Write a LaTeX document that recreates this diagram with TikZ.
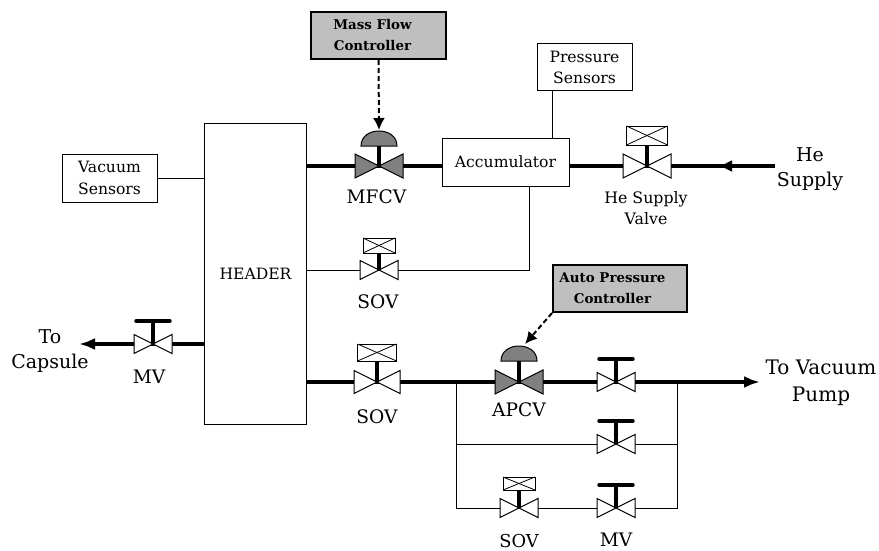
\documentclass[tikz,border=0pt]{standalone}
\usepackage{fontspec}
\setmainfont{DejaVu Serif}
\usetikzlibrary{arrows.meta,calc}
\definecolor{ctrlgray}{gray}{0.75}
\definecolor{valvegray}{gray}{0.5}
\tikzset{
  x=1pt,y=-1pt,
  box/.style={draw=black,line width=1pt,fill=white,align=center,inner sep=0pt,font=\fontsize{15.6}{21.5}\selectfont},
  ctrl/.style={draw=black,line width=2pt,fill=ctrlgray,inner sep=0pt},
  ctrltext/.style={align=center,inner sep=0pt,font=\bfseries\fontsize{13.4}{21}\selectfont},
  lbl/.style={align=center,inner sep=0pt,font=\fontsize{19}{25.5}\selectfont},
  lblwide/.style={align=center,inner sep=0pt,font=\fontsize{20}{27}\selectfont},
  caplbl/.style={align=center,inner sep=0pt,font=\fontsize{18.6}{22}\selectfont},
  slbl/.style={align=center,inner sep=0pt,font=\fontsize{15.8}{21}\selectfont},
  pipe/.style={line width=3.4pt},
  thinline/.style={line width=1pt},
  flow/.style={line width=3.4pt,-{Latex[length=16pt,width=12pt]}},
  signal/.style={line width=2pt,dash pattern=on 5pt off 3pt,-{Latex[length=12pt,width=12pt]}},
  valvebody/.style={draw=black,line width=1pt,line join=miter},
}
% #1 name, #2 half size, #3 fill
\newcommand{\valvebody}[3]{%
  \draw[valvebody,fill=#3] (#1) -- ++(-#2,-#2/2) -- ++(0,#2) -- cycle;
  \draw[valvebody,fill=#3] (#1) -- ++(#2,-#2/2) -- ++(0,#2) -- cycle;
}
% #1 name, #2 half size, #3 box half w, #4 rise to box bottom, #5 box height
\newcommand{\boxact}[5]{%
  \draw[line width=3.4pt] (#1) -- ++(0,-#4);
  \draw[draw=black,line width=1pt,fill=white] ($(#1)+(-#3,-#4)$) rectangle ($(#1)+(#3,-#4-#5)$);
  \draw[line width=.8pt] ($(#1)+(-#3,-#4)$) -- ($(#1)+(#3,-#4-#5)$);
  \draw[line width=.8pt] ($(#1)+(-#3,-#4-#5)$) -- ($(#1)+(#3,-#4)$);
}
% #1 name, #2 rise, #3 half width
\newcommand{\handact}[3]{%
  \draw[line width=3.4pt] (#1) -- ++(0,-#2);
  \draw[line width=3.4pt,line cap=round] ($(#1)+(-#3,-#2)$) -- ($(#1)+(#3,-#2)$);
}
% #1 name, #2 rise to dome base
\newcommand{\domeact}[2]{%
  \draw[line width=3.4pt] (#1) -- ++(0,-#2);
  \draw[draw=black,line width=1pt,fill=valvegray] ($(#1)+(-18,-#2)$) .. controls ($(#1)+(-18,-#2-20)$) and ($(#1)+(18,-#2-20)$) .. ($(#1)+(18,-#2)$) -- cycle;
}
\begin{document}
\begin{tikzpicture}
\useasboundingbox (0,0) rectangle (879,551);
% valve positions
\coordinate (vmfc) at (379,166);
\coordinate (vhe) at (647,166);
\coordinate (vsovm) at (379,270);
\coordinate (vmvl) at (153,344);
\coordinate (vsovb) at (377,382);
\coordinate (vapc) at (519,382);
\coordinate (vmv1) at (616,382);
\coordinate (vmv2) at (616,444);
\coordinate (vsovs) at (519,508);
\coordinate (vmv3) at (616,508);
\coordinate (jl1) at (456,382);
\coordinate (jr1) at (677,382);
\coordinate (jl2) at (456,444);
\coordinate (jr2) at (677,444);
\coordinate (jl3) at (456,508);
\coordinate (jr3) at (677,508);
\coordinate (hein) at (775,166);
\coordinate (hemid) at (718,166);
\coordinate (capsule) at (79,344);
\coordinate (pump) at (760,382);
\coordinate (acccorner) at (529,270);
\coordinate (presstap) at (552,91);
% boxes
\node[box,minimum width=102pt,minimum height=301pt] (header) at (255.5,273.5) {HEADER};
\node[box,minimum width=127pt,minimum height=48pt] (acc) at (505.5,162) {Accumulator};
\node[box,minimum width=95pt,minimum height=48pt] (vac) at (109.5,178) {Vacuum\\Sensors};
\node[box,minimum width=95pt,minimum height=47pt] (press) at (584.5,67.5) {Pressure\\Sensors};
\node[ctrl,minimum width=135pt,minimum height=47pt] (mfc) at (378.5,35.5) {};
\node[ctrltext] (mfctext) at (372.5,35.5) {Mass Flow\\Controller};
\node[ctrl,minimum width=134pt,minimum height=47pt] (apc) at (620,288.5) {};
\node[ctrltext] (apctext) at (612.5,288.5) {Auto Pressure\\Controller};
% thin connectors
\draw[thinline] (vac.east) -- (vac.east -| header.west);
\draw[thinline] (presstap) -- (presstap |- acc.north);
\draw[thinline] (vsovm -| header.east) -- (acccorner) -- (acccorner |- acc.south);
\draw[thinline] (jl1) -- (jl3) -- (jr3) -- (jr1);
\draw[thinline] (jl2) -- (jr2);
% pipes
\draw[pipe] (vmfc -| header.east) -- (vmfc) -- (vmfc -| acc.west);
\draw[pipe] (vhe -| acc.east) -- (vhe);
\draw[pipe] (hein) -- (vhe);
\draw[line width=3.4pt,-{Latex[length=14pt,width=12pt]}] (hein) -- (hemid);
\draw[flow] (vmvl -| header.west) -- (capsule);
\draw[flow] (vsovb -| header.east) -- (pump);
% signals
\draw[signal] (mfc.south) -- ($(vmfc)+(0,-36)$);
\draw[signal] (apc.south west) -- ($(vapc)+(6,-38)$);
% valves
\domeact{vmfc}{20}\valvebody{vmfc}{24}{valvegray}
\boxact{vhe}{24}{20.5}{21}{19}\valvebody{vhe}{24}{white}
\boxact{vsovm}{19}{16}{17}{15}\valvebody{vsovm}{19}{white}
\handact{vmvl}{23}{17}\valvebody{vmvl}{19}{white}
\boxact{vsovb}{23}{19.5}{21}{17}\valvebody{vsovb}{23}{white}
\domeact{vapc}{21}\valvebody{vapc}{24}{valvegray}
\handact{vmv1}{23}{17}\valvebody{vmv1}{19}{white}
\handact{vmv2}{23}{17}\valvebody{vmv2}{19}{white}
\boxact{vsovs}{19}{16}{18}{13}\valvebody{vsovs}{19}{white}
\handact{vmv3}{23}{17}\valvebody{vmv3}{19}{white}
% labels
\node[caplbl] (lmfc) at (376.5,197) {MFCV};
\node[slbl] (lhe) at (646,208) {He Supply\\Valve};
\node[lbl] (lsupply) at (810,169) {He\\Supply};
\node[caplbl] (lsovm) at (378,302) {SOV};
\node[lbl] (lcap) at (50,351) {To\\Capsule};
\node[caplbl] (lmvl) at (149,377) {MV};
\node[caplbl] (lsovb) at (377,417) {SOV};
\node[caplbl] (lapc) at (519,410) {APCV};
\node[lblwide] (lpump) at (821,383) {To Vacuum\\Pump};
\node[caplbl,font=\fontsize{17.8}{22}\selectfont] (lsovs) at (519,541) {SOV};
\node[caplbl] (lmv3) at (616,540) {MV};
\end{tikzpicture}
\end{document}
